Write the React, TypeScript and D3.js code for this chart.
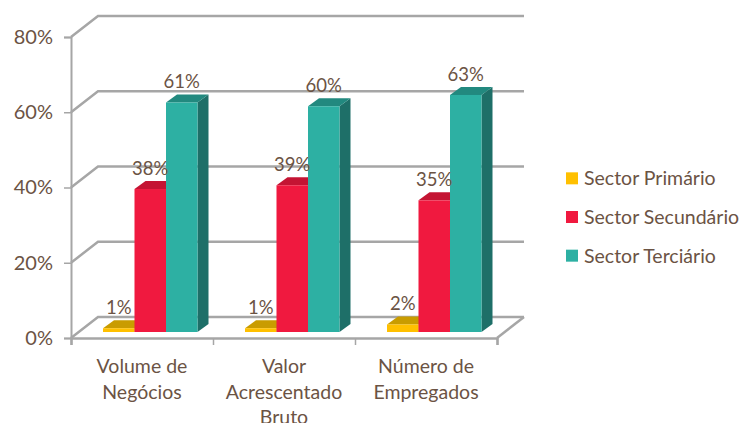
import React, { useEffect, useRef } from 'react';
import { axisBottom, axisLeft, scaleBand, scaleLinear, select } from 'd3';

const categories = ['Volume de|Negócios', 'Valor|Acrescentado|Bruto', 'Número de|Empregados'];
const seriesNames = ['Sector Primário', 'Sector Secundário', 'Sector Terciário'];
const primario = [1, 1, 2];
const secundario = [38, 39, 35];
const terciario = [61, 60, 63];
const yTicks = [0, 20, 40, 60, 80];

const frontColors = ['#ffc000', '#f0193f', '#2db0a3'];
const topColors = ['#c99c00', '#c41433', '#22897f'];
const sideColors = ['#c49600', '#a8102b', '#1e6f68'];

const textColor = '#6b5344';
const axisColor = '#a6a6a6';

function App() {
  const svgRef = useRef<SVGSVGElement>(null);

  useEffect(() => {
    const svg = select(svgRef.current);
    svg.selectAll('*').remove();

    const series = [primario, secundario, terciario];
    const depthX = 27;
    const depthY = 21;
    const barDepthX = 11;
    const barDepthY = 8;

    const xScale = scaleBand<number>().domain([0, 1, 2]).range([71, 497]);
    const yScale = scaleLinear().domain([0, 80]).range([338, 37]);
    const barBand = scaleBand<number>().domain([0, 1, 2]).range([32, 126.5]);

    // back wall gridlines, running in from the front axis
    svg.append('g')
      .selectAll('path')
      .data(yTicks)
      .join('path')
      .attr('d', (t) => `M71,${yScale(t)}L${71 + depthX},${yScale(t) - depthY}L${497 + depthX},${yScale(t) - depthY}`)
      .attr('fill', 'none')
      .attr('stroke', axisColor)
      .attr('stroke-width', 2.5);

    // floor, right edge
    svg.append('path')
      .attr('d', `M497,338L${497 + depthX},${338 - depthY}`)
      .attr('fill', 'none')
      .attr('stroke', axisColor)
      .attr('stroke-width', 2.5);

    const yAxis = axisLeft(yScale)
      .tickValues(yTicks)
      .tickSize(7)
      .tickPadding(11)
      .tickFormat((d) => `${d}%`);
    const yG = svg.append('g').attr('transform', 'translate(71,0)').call(yAxis);
    yG.selectAll('.domain').attr('stroke', axisColor).attr('stroke-width', 2);
    yG.selectAll('.tick line').attr('stroke', axisColor).attr('stroke-width', 1.5);
    yG.selectAll('text')
      .attr('fill', textColor)
      .attr('font-family', 'Lato')
      .attr('font-size', 20);

    const xAxis = axisBottom(scaleLinear().domain([0, 3]).range([71, 497]))
      .tickValues([0, 1, 2, 3])
      .tickSize(7)
      .tickFormat(() => '');
    const xG = svg.append('g').attr('transform', 'translate(0,338)').call(xAxis);
    xG.selectAll('.domain').attr('stroke', axisColor).attr('stroke-width', 2.5);
    xG.selectAll('.tick line').attr('stroke', axisColor).attr('stroke-width', 1.5);

    // bars drawn category by category, left to right so the fronts overlap the sides
    const bars = svg.append('g');
    const base = yScale(0) - 6;
    categories.forEach((_, c) => {
      series.forEach((values, s) => {
        const value = values[c];
        const x0 = (xScale(c) as number) + (barBand(s) as number);
        const x1 = x0 + barBand.bandwidth();
        const top = base - (yScale(0) - yScale(value));
        const g = bars.append('g');
        g.append('path')
          .attr('d', `M${x1},${top}L${x1 + barDepthX},${top - barDepthY}L${x1 + barDepthX},${base - barDepthY}L${x1},${base}Z`)
          .attr('fill', sideColors[s]);
        g.append('path')
          .attr('d', `M${x0},${top}L${x0 + barDepthX},${top - barDepthY}L${x1 + barDepthX},${top - barDepthY}L${x1},${top}Z`)
          .attr('fill', topColors[s]);
        g.append('rect')
          .attr('x', x0)
          .attr('y', top)
          .attr('width', barBand.bandwidth())
          .attr('height', base - top)
          .attr('fill', frontColors[s]);
      });
    });

    // value labels on top of everything
    categories.forEach((_, c) => {
      series.forEach((values, s) => {
        const value = values[c];
        svg.append('text')
          .attr('x', (xScale(c) as number) + (barBand(s) as number) + barBand.bandwidth() / 2)
          .attr('y', base - (yScale(0) - yScale(value)) - 14)
          .attr('text-anchor', 'middle')
          .attr('fill', textColor)
          .attr('font-family', 'Lato')
          .attr('font-size', 18.5)
          .text(`${value}%`);
      });
    });

    // category labels, the third one runs off the bottom
    categories.forEach((label, c) => {
      label.split('|').forEach((line, i) => {
        svg.append('text')
          .attr('x', (xScale(c) as number) + xScale.bandwidth() / 2)
          .attr('y', 373 + i * 25.5)
          .attr('text-anchor', 'middle')
          .attr('fill', textColor)
          .attr('font-family', 'Lato')
          .attr('font-size', 19.5)
          .text(line);
      });
    });

    const legendY = scaleBand<number>().domain([0, 1, 2]).range([160, 276]);
    const legend = svg.append('g')
      .selectAll('g')
      .data(seriesNames)
      .join('g')
      .attr('transform', (_, i) => `translate(566,${(legendY(i) as number) + legendY.bandwidth() / 2})`);
    legend.append('rect')
      .attr('y', -7)
      .attr('width', 12)
      .attr('height', 12)
      .attr('fill', (_, i) => frontColors[i]);
    legend.append('text')
      .attr('x', 18)
      .attr('y', 6)
      .attr('fill', textColor)
      .attr('font-family', 'Lato')
      .attr('font-size', 19.5)
      .text((d) => d);
  }, []);

  return (
    <svg
      ref={svgRef}
      width={743}
      height={423}
      style={{ position: 'fixed', left: 0, top: 0, background: '#fff' }}
    />
  );
}

export default App;
